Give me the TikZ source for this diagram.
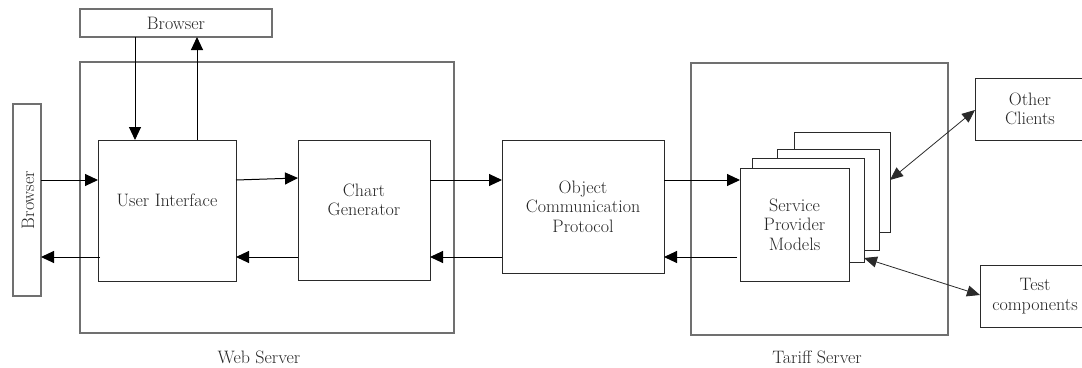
\documentclass[tikz,border=0pt]{standalone}
\usepackage{mathpazo}
\usetikzlibrary{arrows.meta}
\definecolor{frame}{HTML}{707070}
\definecolor{ink}{HTML}{2A2A2A}
\definecolor{txt}{HTML}{262626}
\begin{document}
\begin{tikzpicture}[x=1pt,y=-1pt,
  font=\fontsize{18}{19.3}\selectfont,
  every node/.style={inner sep=0pt,outer sep=0pt,text=txt},
  server/.style={draw=frame,line width=1.3pt,rectangle},
  unit/.style={draw=ink,line width=1pt,rectangle,fill=white},
  caption/.style={align=center},
  flow/.style={draw=black,line width=1pt,-{Triangle[length=13pt,width=12pt]}},
  link/.style={draw=ink,line width=0.8pt,{Triangle[length=13pt,width=11pt]}-{Triangle[length=13pt,width=11pt]}}]
\useasboundingbox (0,0) rectangle (1082,367);
\begin{scope}
\clip (0,0) rectangle (1082,367);

% server frames
\node[server,minimum width=374pt,minimum height=271pt] (web) at (267,197.5) {};
\node[server,minimum width=257pt,minimum height=272pt] (tar) at (819.5,199) {};
\node[caption] (webl) at (259,357) {Web Server};
\node[caption] (tarl) at (817,357) {Tariff Server};

% browsers
\node[server,line width=1.1pt,minimum width=192pt,minimum height=28pt] (brT) at (176,23) {Browser};
\node[server,line width=1.1pt,minimum width=28pt,minimum height=192pt] (brL) at (27,200) {};
\node[rotate=90] (brLt) at (28,200) {Browser};

% web server components
\node[unit,minimum width=138pt,minimum height=141pt] (ui) at (167,210.5) {};
\node[caption] (uit) at (167,200) {User Interface};
\node[unit,minimum width=132pt,minimum height=140pt] (cg) at (364,210) {};
\node[caption] (cgt) at (364,200) {Chart\\Generator};

% protocol
\node[unit,minimum width=162pt,minimum height=133pt,align=center] (ocp) at (583,206.5) {Object\\Communication\\Protocol};

% stacked service provider models
\node[unit,minimum width=96pt,minimum height=100pt] (spm4) at (842,182) {};
\node[unit,minimum width=102pt,minimum height=101pt] (spm3) at (828,199.5) {};
\node[unit,minimum width=112pt,minimum height=104pt] (spm2) at (808,210) {};
\node[unit,minimum width=109pt,minimum height=113pt,align=center] (spm) at (794.5,224.5) {Service\\Provider\\Models};

% external clients
\node[unit,minimum width=120pt,minimum height=62pt] (oc) at (1035,109) {};
\node[caption] (oct) at (1030,109) {Other\\Clients};
\node[unit,minimum width=115pt,minimum height=62pt] (tc) at (1037.5,296) {};
\node[caption] (tct) at (1035,296) {Test\\components};

% browser traffic
\draw[flow] ([xshift=55pt]brT.south west) -- ([xshift=37pt]ui.north west);
\draw[flow] ([xshift=99pt]ui.north west) -- ([xshift=117pt]brT.south west);
\draw[flow] ([yshift=20pt]brL.east) -- ([yshift=-40pt]ui.north west);
\draw[flow] ([xshift=2pt,yshift=-117pt]ui.north west) -- ([yshift=-57pt]brL.east);

% requests and responses
\draw[flow] ([yshift=-40pt]ui.north east) -- ([yshift=-38pt]cg.north west);
\draw[flow] ([yshift=-117pt]cg.north west) -- ([yshift=-117pt]ui.north east);
\draw[flow] ([yshift=-40pt]cg.north east) -- ([yshift=-40pt]ocp.north west);
\draw[flow] ([yshift=-117pt]ocp.north west) -- ([yshift=-117pt]cg.north east);
\draw[flow] ([yshift=-40pt]ocp.north east) -- ([yshift=-12pt]spm.north west);
\draw[flow] ([xshift=-3pt,yshift=-89pt]spm.north west) -- ([yshift=-117pt]ocp.north east);

% two-way links to external clients
\draw[link] ([yshift=2pt]spm4.east) -- ([yshift=-32pt]oc.north west);
\draw[link] ([yshift=4pt]spm2.south east) -- ([yshift=-30pt]tc.north west);
\end{scope}
\end{tikzpicture}
\end{document}
